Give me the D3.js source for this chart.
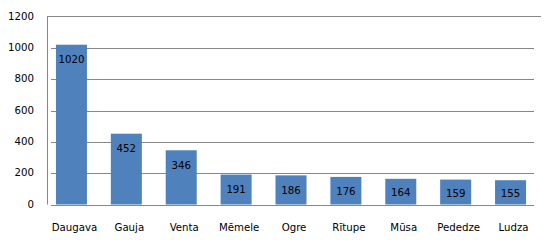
<!DOCTYPE html>
<html><head><meta charset="utf-8">
<script src="https://cdn.jsdelivr.net/npm/d3@7"></script>
<style>html,body{margin:0;padding:0;background:#fff}svg{display:block}</style>
</head><body>
<svg id="c" width="559" height="240"></svg>
<script>
const categories = ["Daugava","Gauja","Venta","Mēmele","Ogre","Rītupe","Mūsa","Pededze","Ludza"];
const values = [1020,452,346,191,186,176,164,159,155];
const yTicks = [0,200,400,600,800,1000,1200];

const svg = d3.select("#c");
const font = "DejaVu Sans";
const x = d3.scaleBand().domain(categories).range([44,538]).paddingInner(0.435).paddingOuter(0.2175);
const y = d3.scaleLinear().domain([0,1200]).range([204.5,16.5]);

// gridlines (excluding top)
svg.append("g").selectAll("line").data(yTicks.filter(t=>t<1200)).join("line")
  .attr("x1",51).attr("x2",534).attr("y1",d=>Math.round(y(d))+0.5).attr("y2",d=>Math.round(y(d))+0.5)
  .attr("stroke","#878787").attr("stroke-width",1);
// plot frame top + left
svg.append("line").attr("x1",47).attr("x2",541).attr("y1",y(1200)).attr("y2",y(1200)).attr("stroke","#878787");
svg.append("line").attr("x1",47.5).attr("x2",47.5).attr("y1",y(1200)).attr("y2",y(0)).attr("stroke","#878787");

// bars
svg.append("g").selectAll("rect").data(values).join("rect")
  .attr("x",(d,i)=>x(categories[i])).attr("width",x.bandwidth())
  .attr("y",d=>y(d)).attr("height",d=>y(0)-y(d)).attr("fill","#4F81BD");

// value labels
svg.append("g").selectAll("text").data(values).join("text")
  .attr("x",(d,i)=>x(categories[i])+x.bandwidth()/2)
  .attr("y",d=>Math.min(y(d)+15,(y(d)+y(0))/2+1))
  .attr("text-anchor","middle").attr("dominant-baseline","central")
  .attr("font-family",font).attr("font-size",10.2).attr("fill","#000")
  .text(d=>d);

// y tick labels
svg.append("g").selectAll("text").data(yTicks).join("text")
  .attr("x",34).attr("y",d=>y(d)-0.5).attr("text-anchor","end").attr("dominant-baseline","central")
  .attr("font-family",font).attr("font-size",10.2).attr("fill","#000").text(d=>d);

// category labels
svg.append("g").selectAll("text").data(categories).join("text")
  .attr("x",d=>x(d)+x.bandwidth()/2+3).attr("y",227.3).attr("text-anchor","middle").attr("dominant-baseline","central")
  .attr("font-family",font).attr("font-size",10.2).attr("fill","#000").text(d=>d);
</script>
</body></html>
